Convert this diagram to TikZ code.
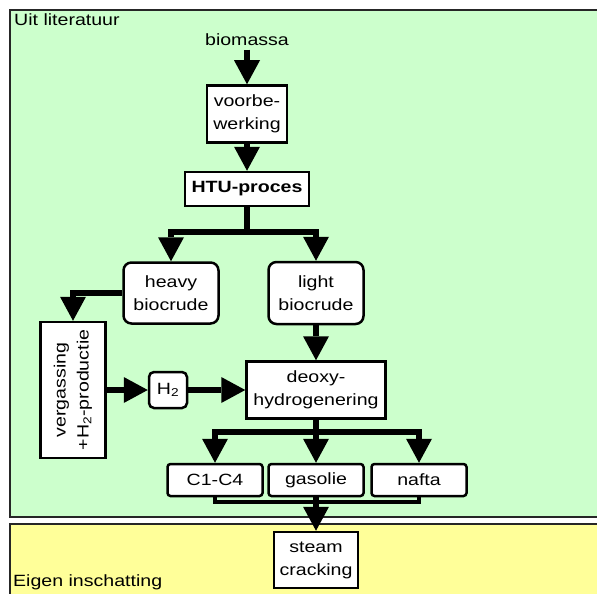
\documentclass[tikz,border=0pt]{standalone}
\usepackage{fontspec}
\setmainfont{Liberation Sans}[FakeStretch=1.2]
\usetikzlibrary{arrows.meta,positioning,calc}

\definecolor{litgreen}{HTML}{CCFFCC}
\definecolor{eigenyellow}{HTML}{FFFF99}

\tikzset{
	box/.style={draw=black,line width=2.5pt,fill=white,align=center,inner sep=2pt},
	rbox/.style={box,rounded corners=8pt},
	sbox/.style={box,rounded corners=3pt},
	line/.style={line width=6pt},
	thinline/.style={line width=4.5pt},
	flow/.style={line,-{Triangle[width=26pt,length=24pt,line width=0pt]}}
}

\begin{document}
\begin{tikzpicture}[x=1pt,y=-1pt,font=\fontsize{16.3}{23}\selectfont]
	\useasboundingbox (0,0) rectangle (597,594);
	\fill[white] (0,0) rectangle (597,594);
	\draw[fill=litgreen,draw=black!85,line width=2.5pt] (10,10) rectangle (620,517);
	\draw[fill=eigenyellow,draw=black!85,line width=2.5pt] (10,524) rectangle (620,620);
	\node[anchor=north west,inner sep=0pt](lit) at (14,13) {Uit literatuur};
	\node[anchor=west,inner sep=0pt](eigen) at (13,582) {Eigen inschatting};
	\node(bio) at (247,40) {biomassa};
	\node[box,minimum width=80pt,minimum height=57pt](voor) at (247,114) {voorbe-\\werking};
	\node[box,minimum width=124pt,minimum height=34pt,font=\fontsize{16.3}{23}\selectfont\bfseries](htu) at (247,189) {HTU-proces};
	\node[rbox,minimum width=95pt,minimum height=61pt](heavy) at (171,293) {heavy\\biocrude};
	\node[rbox,minimum width=95pt,minimum height=62pt](light) at (316,293) {light\\biocrude};
	\node[box,rotate=90,minimum width=136pt,minimum height=65pt](verg) at (73,390) {vergassing\\+H\textsubscript{2}-productie};
	\node[box,rounded corners=5pt,minimum width=38pt,minimum height=36pt,inner sep=0pt](h2) at (168,390) {H\textsubscript{2}};
	\node[box,minimum width=139pt,minimum height=57pt](deoxy) at (316,390) {deoxy-\\hydrogenering};
	\node[sbox,minimum width=95pt,minimum height=32pt](c14) at (215,480) {C1-C4};
	\node[sbox,minimum width=95pt,minimum height=32pt](gasolie) at (316,480) {gasolie};
	\node[sbox,minimum width=95pt,minimum height=32pt](nafta) at (419,480) {nafta};
	\node[box,minimum width=84pt,minimum height=56pt](steam) at (316,560) {steam\\cracking};
	\coordinate(split1) at (247,232);
	\coordinate(split2) at (316,432);
	\coordinate(join) at (316,502);
	\path[flow](bio) edge (voor);
	\path[flow](voor) edge (htu);
	\draw[line](htu) -- (split1);
	\draw[flow](split1) -| (heavy);
	\draw[flow](split1) -| (light);
	\draw[flow](heavy) -| (verg);
	\path[flow](verg) edge (h2);
	\path[flow](h2) edge (deoxy);
	\path[flow](light) edge (deoxy);
	\draw[line](deoxy) -- (split2);
	\foreach \prod in {c14,gasolie,nafta}
		\draw[flow](split2) -| (\prod);
	\draw[thinline](c14) |- (join);
	\draw[thinline](nafta) |- (join);
	\path[flow](gasolie) edge (steam);
\end{tikzpicture}
\end{document}
